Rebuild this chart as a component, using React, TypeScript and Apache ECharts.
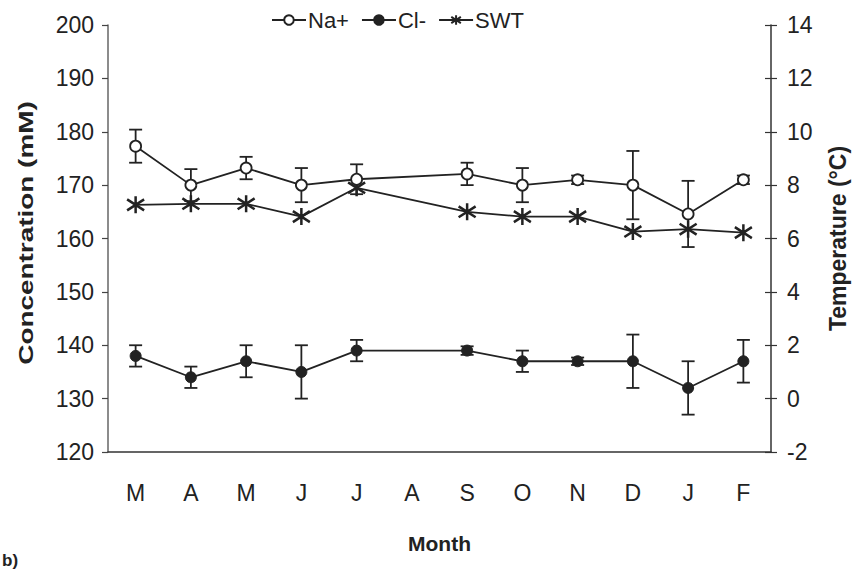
import React, { useEffect, useRef } from 'react';
import * as echarts from 'echarts';

const months = ['M', 'A', 'M', 'J', 'J', 'A', 'S', 'O', 'N', 'D', 'J', 'F'];
const naMean: (number | null)[] = [177.3, 170, 173.2, 170, 171.1, null, 172.1, 170, 171, 170, 164.6, 171];
const naErr: (number | null)[] = [3.1, 3, 2.1, 3.2, 2.8, null, 2.1, 3.2, 0.8, 6.4, 6.2, 0.8];
const clMean: (number | null)[] = [138, 134, 137, 135, 139, null, 139, 137, 137, 137, 132, 137];
const clErr: (number | null)[] = [2, 2, 3, 5, 2, null, 0.8, 2, 0.7, 5, 5, 4];
const swt: (number | null)[] = [7.26, 7.3, 7.3, 6.82, 7.9, null, 7.0, 6.82, 6.82, 6.26, 6.35, 6.22];

const FONT = '"Liberation Sans", Arial, sans-serif';
const INK = '#222';

const asterisk = 'path://M7,0 L7,14 M1,2.5 L13,11.5 M1,11.5 L13,2.5';

function errData(mean: (number | null)[], err: (number | null)[]) {
  const out: number[][] = [];
  mean.forEach((m, i) => {
    const e = err[i];
    if (m != null && e != null) out.push([i, m - e, m + e]);
  });
  return out;
}

function errSeries(data: number[][]) {
  return {
    type: 'custom',
    yAxisIndex: 0,
    z: 1,
    silent: true,
    encode: { x: 0, y: [1, 2] },
    data,
    renderItem: (params: any, api: any) => {
      const x = api.value(0);
      const lo = api.coord([x, api.value(1)]);
      const hi = api.coord([x, api.value(2)]);
      const hw = 6.5;
      const st = { stroke: INK, lineWidth: 1.8 };
      return {
        type: 'group',
        children: [
          { type: 'line', shape: { x1: hi[0], y1: hi[1], x2: lo[0], y2: lo[1] }, style: st },
          { type: 'line', shape: { x1: hi[0] - hw, y1: hi[1], x2: hi[0] + hw, y2: hi[1] }, style: st },
          { type: 'line', shape: { x1: lo[0] - hw, y1: lo[1], x2: lo[0] + hw, y2: lo[1] }, style: st },
        ],
      };
    },
  };
}

export default function App() {
  const ref = useRef<HTMLDivElement>(null);
  useEffect(() => {
    document.body.style.margin = '0';
    const chart = echarts.init(ref.current!, null, { renderer: 'svg' });
    const tickLabel = { color: INK, fontFamily: FONT, fontSize: 23 };
    chart.setOption({
      animation: false,
      backgroundColor: '#fff',
      textStyle: { fontFamily: FONT },
      grid: { left: 108, right: 84, top: 25, bottom: 120 },
      legend: {
        top: 4,
        left: 266,
        itemWidth: 34,
        itemHeight: 12,
        itemGap: 12,
        textStyle: { color: INK, fontFamily: FONT, fontSize: 22, padding: [0, 0, 0, -3] },
        data: ['Na+', 'Cl-', 'SWT'],
      },
      xAxis: {
        type: 'category',
        data: months,
        boundaryGap: true,
        name: 'Month',
        nameLocation: 'middle',
        nameGap: 81,
        nameTextStyle: { color: INK, fontFamily: FONT, fontSize: 21, fontWeight: 'bold' },
        axisLine: { onZero: false, lineStyle: { color: '#333', width: 1.5 } },
        axisTick: { alignWithLabel: false, length: 5, lineStyle: { color: '#333', width: 1.2 } },
        axisLabel: { ...tickLabel, margin: 29 },
        splitLine: { show: false },
      },
      yAxis: [
        {
          type: 'value',
          min: 120,
          max: 200,
          interval: 10,
          position: 'left',
          axisLine: { show: true, lineStyle: { color: '#666', width: 1.5 } },
          axisTick: { show: true, length: 6, lineStyle: { color: '#444', width: 1.2 } },
          axisLabel: { ...tickLabel, margin: 14 },
          splitLine: { show: false },
        },
        {
          type: 'value',
          min: -2,
          max: 14,
          interval: 2,
          position: 'right',
          name: 'Temperature (°C)',
          nameLocation: 'middle',
          nameGap: 55,
          nameTextStyle: { color: INK, fontFamily: FONT, fontSize: 23, fontWeight: 'bold' },
          axisLine: { show: true, lineStyle: { color: '#333', width: 1.5 } },
          axisTick: { show: true, length: 6, lineStyle: { color: '#333', width: 1.2 } },
          axisLabel: { ...tickLabel, margin: 16 },
          splitLine: { show: false },
        },
        {
          type: 'value',
          min: -2,
          max: 14,
          interval: 2,
          position: 'right',
          axisLine: { show: false },
          axisTick: { show: true, inside: true, length: 6, lineStyle: { color: '#333', width: 1.2 } },
          axisLabel: { show: false },
          splitLine: { show: false },
        },
      ],
      series: [
        errSeries(errData(naMean, naErr)),
        errSeries(errData(clMean, clErr)),
        {
          name: 'Na+',
          type: 'line',
          yAxisIndex: 0,
          z: 3,
          data: naMean.map((v) => (v == null ? '-' : v)),
          connectNulls: true,
          symbol: 'circle',
          symbolSize: 11,
          lineStyle: { color: INK, width: 1.8 },
          itemStyle: { color: '#fff', borderColor: INK, borderWidth: 1.8 },
        },
        {
          name: 'Cl-',
          type: 'line',
          yAxisIndex: 0,
          z: 3,
          data: clMean.map((v) => (v == null ? '-' : v)),
          connectNulls: true,
          symbol: 'circle',
          symbolSize: 11,
          lineStyle: { color: INK, width: 1.8 },
          itemStyle: { color: INK, borderColor: INK, borderWidth: 1 },
        },
        {
          name: 'SWT',
          type: 'line',
          yAxisIndex: 1,
          z: 2,
          data: swt.map((v) => (v == null ? '-' : v)),
          connectNulls: true,
          symbol: asterisk,
          symbolSize: 17,
          lineStyle: { color: INK, width: 1.8 },
          itemStyle: { color: INK, borderColor: INK, borderWidth: 2.5 },
        },
      ],
      graphic: [
        {
          type: 'text',
          x: 26,
          y: 233,
          rotation: Math.PI / 2,
          scaleX: 1.33,
          style: {
            text: 'Concentration (mM)',
            fill: INK,
            font: `bold 21px ${FONT}`,
            align: 'center',
            verticalAlign: 'middle',
          },
        },
        {
          type: 'text',
          left: 2,
          top: 552,
          style: { text: 'b)', fill: INK, font: `bold 17px ${FONT}` },
        },
      ],
    });
    return () => chart.dispose();
  }, []);
  return <div ref={ref} style={{ width: 857, height: 572 }} />;
}
